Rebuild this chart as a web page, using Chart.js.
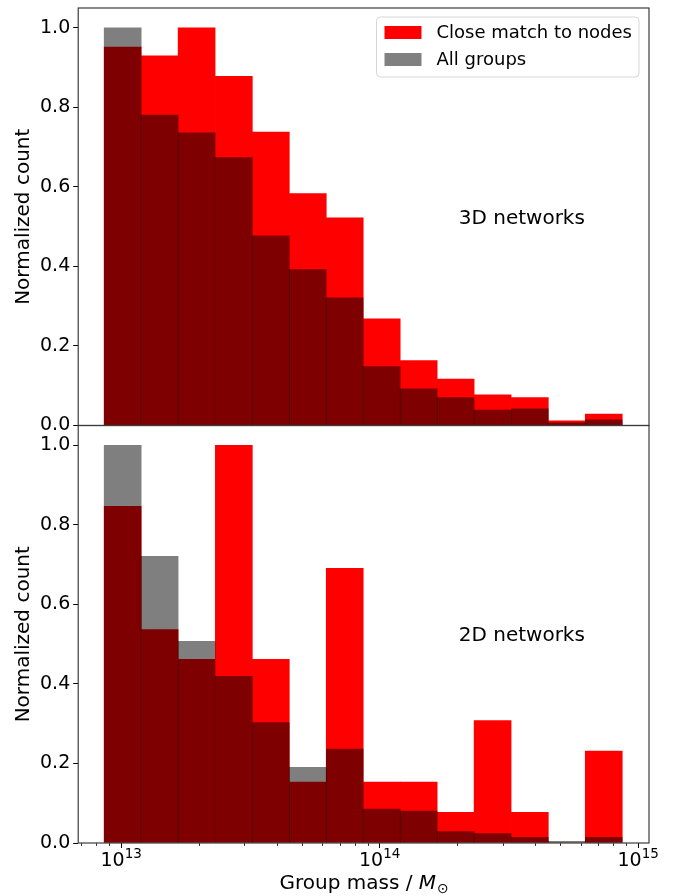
<!DOCTYPE html>
<html>
<head>
<meta charset="utf-8">
<script src="https://cdn.jsdelivr.net/npm/chart.js@4.4.1/dist/chart.umd.min.js"></script>
<style>
  html, body { margin: 0; padding: 0; background: #fff; }
  #wrap { width: 680px; height: 896px; }
</style>
</head>
<body>
<div id="wrap"><canvas id="chartHist"></canvas></div>
<script>
// bin centres, log10(M / Msun)
var binCentersLog = [13.006, 13.149, 13.292, 13.436, 13.579, 13.722, 13.865, 14.008, 14.151, 14.294, 14.437, 14.581, 14.724, 14.867];

// 3D networks (top panel)
var close3D = [0.952, 0.930, 1.000, 0.878, 0.738, 0.583, 0.522, 0.268, 0.163, 0.117, 0.077, 0.070, 0.012, 0.029];
var all3D   = [1.000, 0.781, 0.736, 0.674, 0.477, 0.392, 0.321, 0.148, 0.092, 0.070, 0.039, 0.042, 0.007, 0.014];

// 2D networks (bottom panel)
var close2D = [0.847, 0.537, 0.462, 1.000, 0.462, 0.153, 0.691, 0.153, 0.153, 0.077, 0.308, 0.077, 0.000, 0.231];
var all2D   = [1.000, 0.721, 0.507, 0.419, 0.303, 0.190, 0.236, 0.085, 0.080, 0.029, 0.024, 0.014, 0.004, 0.014];

var seriesLabels = ["Close match to nodes", "All groups"];
var panelLabels = ["3D networks", "2D networks"];
var xTickValues = [13, 14, 15];
var xTickBase = "10";
var xTickExp = ["13", "14", "15"];
var yTickValues = [0, 0.2, 0.4, 0.6, 0.8, 1.0];

var FONT = "'DejaVu Sans', sans-serif";
var RED = "rgb(255,0,0)";
var GREY = "rgba(0,0,0,0.5)";

function pts(vals) {
    return vals.map(function (v, i) { return { x: binCentersLog[i], y: v }; });
}

// log minor ticks (2..9 x 10^n)
var minorTicks = [];
for (var n = 12; n <= 15; n++) {
    for (var k = 2; k <= 9; k++) minorTicks.push(Math.log10(k) + n);
}

var panelPlugin = {
    id: 'panelExtras',
    afterDatasetsDraw: function (chart) {
        var ctx = chart.ctx, area = chart.chartArea;
        var xs = chart.scales.x;
        ctx.save();

        // minor ticks on the bottom axis
        ctx.strokeStyle = '#000';
        ctx.lineWidth = 0.8;
        minorTicks.forEach(function (v) {
            if (v < xs.min || v > xs.max) return;
            var px = Math.round(xs.getPixelForValue(v)) + 0.5;
            ctx.beginPath();
            ctx.moveTo(px, area.bottom);
            ctx.lineTo(px, area.bottom + 3);
            ctx.stroke();
        });

        // x tick labels 10^n
        ctx.fillStyle = '#000';
        ctx.textAlign = 'left';
        ctx.textBaseline = 'alphabetic';
        xTickValues.forEach(function (v, i) {
            var px = xs.getPixelForValue(v);
            ctx.font = '19px ' + FONT;
            var wb = ctx.measureText(xTickBase).width;
            ctx.font = '13.5px ' + FONT;
            var we = ctx.measureText(xTickExp[i]).width;
            var x0 = px - (wb + we) / 2;
            ctx.font = '19px ' + FONT;
            ctx.fillText(xTickBase, x0, area.bottom + 23);
            ctx.font = '13.5px ' + FONT;
            ctx.fillText(xTickExp[i], x0 + wb, area.bottom + 15);
        });

        // panel frames
        ctx.strokeStyle = 'rgb(60,60,60)';
        ctx.lineWidth = 1.2;
        ['y1', 'y2'].forEach(function (id) {
            var s = chart.scales[id];
            ctx.strokeRect(area.left, s.top, area.right - area.left, s.bottom - s.top);
        });

        // panel labels
        ctx.fillStyle = '#000';
        ctx.font = '20px ' + FONT;
        ctx.textAlign = 'center';
        ctx.textBaseline = 'middle';
        ctx.fillText(panelLabels[0], xs.getPixelForValue(14.55), chart.scales.y1.getPixelForValue(0.52));
        ctx.fillText(panelLabels[1], xs.getPixelForValue(14.55), chart.scales.y2.getPixelForValue(0.52));

        // legend, upper right of top panel
        var fs = 18;
        ctx.font = fs + 'px ' + FONT;
        var tw = Math.max(ctx.measureText(seriesLabels[0]).width, ctx.measureText(seriesLabels[1]).width);
        var boxW = 8 + 37 + 15 + tw + 7;
        var boxH = 60;
        var bx = area.right - 10 - boxW;
        var by = chart.scales.y1.top + 9;
        ctx.beginPath();
        ctx.roundRect(bx, by, boxW, boxH, 4);
        ctx.fillStyle = 'rgba(255,255,255,0.8)';
        ctx.fill();
        ctx.strokeStyle = 'rgb(214,214,214)';
        ctx.lineWidth = 1;
        ctx.stroke();
        var rows = [by + 15.5, by + 42.5];
        var colors = [RED, 'rgb(128,128,128)'];
        ctx.textAlign = 'left';
        for (var r = 0; r < 2; r++) {
            ctx.fillStyle = colors[r];
            ctx.fillRect(bx + 8, rows[r] - 6.5, 37, 13);
            ctx.fillStyle = '#000';
            ctx.fillText(seriesLabels[r], bx + 60, rows[r] + 1);
        }

        // x axis title: Group mass / M_sun
        var y = 882;
        var p1 = 'Group mass / ', p2 = 'M', p3 = '\u2299';
        ctx.font = '20px ' + FONT;
        var w1 = ctx.measureText(p1).width;
        ctx.font = 'italic 20px ' + FONT;
        var w2 = ctx.measureText(p2).width;
        ctx.font = '14px ' + FONT;
        var w3 = ctx.measureText(p3).width;
        var x0 = (area.left + area.right) / 2 - (w1 + w2 + w3) / 2;
        ctx.textBaseline = 'alphabetic';
        ctx.font = '20px ' + FONT;
        ctx.fillText(p1, x0, y + 7);
        ctx.font = 'italic 20px ' + FONT;
        ctx.fillText(p2, x0 + w1, y + 7);
        ctx.font = '14px ' + FONT;
        ctx.fillText(p3, x0 + w1 + w2 + 1, y + 11);

        ctx.restore();
    }
};

function yAxis() {
    return {
        type: 'linear',
        position: 'left',
        stack: 'panels',
        stackWeight: 1,
        min: 0,
        max: 1.05,
        border: { display: false },
        grid: { drawOnChartArea: false, tickLength: 5, tickColor: '#000', tickWidth: 1 },
        afterBuildTicks: function (axis) {
            axis.ticks = yTickValues.map(function (v) { return { value: v }; });
        },
        afterFit: function (axis) {
            axis.paddingTop = 0;
            axis.paddingBottom = 0;
        },
        ticks: {
            color: '#000',
            font: { family: FONT, size: 19 },
            padding: 3,
            callback: function (v) { return v.toFixed(1); }
        },
        title: {
            display: true,
            text: 'Normalized count',
            color: '#000',
            font: { family: FONT, size: 20 },
            padding: { top: 7, bottom: 1 }
        }
    };
}

var ctx = document.getElementById('chartHist').getContext('2d');
var myChart = new Chart(ctx, {
    type: 'bar',
    data: {
        datasets: [
            { label: seriesLabels[1], data: pts(all3D), yAxisID: 'y1', backgroundColor: GREY, order: 1 },
            { label: seriesLabels[1], data: pts(all2D), yAxisID: 'y2', backgroundColor: GREY, order: 1 },
            { label: seriesLabels[0], data: pts(close3D), yAxisID: 'y1', backgroundColor: RED, order: 2 },
            { label: seriesLabels[0], data: pts(close2D), yAxisID: 'y2', backgroundColor: RED, order: 2 }
        ]
    },
    options: {
        responsive: true,
        maintainAspectRatio: false,
        animation: false,
        grouped: false,
        barPercentage: 1.0,
        categoryPercentage: 1.0,
        borderWidth: 0,
        layout: { padding: { left: 5, right: 31, top: 8, bottom: 48 } },
        plugins: { legend: { display: false }, tooltip: { enabled: false } },
        scales: {
            x: {
                type: 'linear',
                position: 'bottom',
                min: 12.834,
                max: 15.042,
                offset: false,
                border: { display: false },
                grid: { offset: false, drawOnChartArea: false, tickLength: 5, tickColor: '#000', tickWidth: 1 },
                afterBuildTicks: function (axis) {
                    axis.ticks = xTickValues.map(function (v) { return { value: v }; });
                },
                afterFit: function (axis) {
                    axis.paddingLeft = 0;
                    axis.paddingRight = 0;
                },
                ticks: { display: false }
            },
            y2: yAxis(),
            y1: yAxis()
        }
    },
    plugins: [panelPlugin]
});
</script>
</body>
</html>
